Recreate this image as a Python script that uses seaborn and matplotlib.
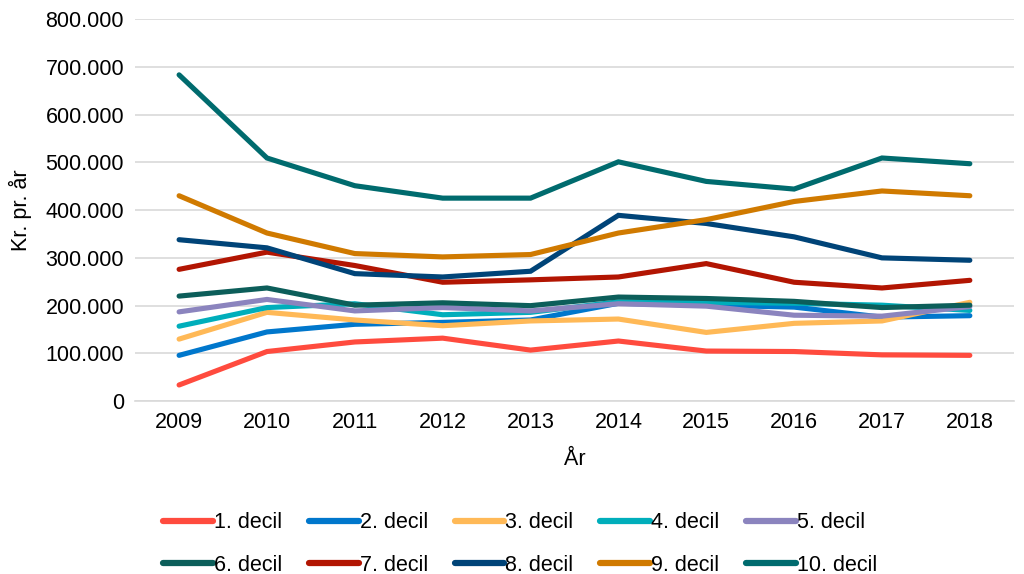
import matplotlib
matplotlib.use("Agg")
import matplotlib.pyplot as plt
import matplotlib.ticker as mticker
from matplotlib.lines import Line2D
import seaborn as sns
import pandas as pd

years = [2009, 2010, 2011, 2012, 2013, 2014, 2015, 2016, 2017, 2018]
labels = ["1. decil", "2. decil", "3. decil", "4. decil", "5. decil",
          "6. decil", "7. decil", "8. decil", "9. decil", "10. decil"]
d1 = [34000, 104000, 124000, 132000, 107000, 126000, 105000, 104000, 97000, 96000]
d2 = [96000, 145000, 161000, 165000, 170000, 205000, 201000, 197000, 176000, 179000]
d3 = [130000, 186000, 170000, 158000, 168000, 172000, 144000, 163000, 168000, 207000]
d4 = [157000, 196000, 204000, 181000, 186000, 208000, 207000, 205000, 201000, 190000]
d5 = [187000, 213000, 189000, 196000, 189000, 204000, 199000, 180000, 178000, 198000]
d6 = [220000, 237000, 201000, 206000, 200000, 218000, 215000, 209000, 196000, 201000]
d7 = [276000, 312000, 284000, 249000, 254000, 260000, 288000, 249000, 237000, 253000]
d8 = [338000, 321000, 267000, 260000, 272000, 389000, 372000, 344000, 300000, 295000]
d9 = [430000, 352000, 309000, 302000, 307000, 352000, 380000, 418000, 440000, 430000]
d10 = [683000, 509000, 451000, 425000, 425000, 501000, 460000, 444000, 509000, 497000]
series = [d1, d2, d3, d4, d5, d6, d7, d8, d9, d10]
colors = ["#FF4B3E", "#0077CC", "#FFB957", "#00AEBB", "#8B84BE",
          "#0C5E5A", "#B21502", "#004478", "#D07A00", "#006B6E"]

rows = []
for lab, vals in zip(labels, series):
    for y, v in zip(years, vals):
        rows.append({"År": y, "Værdi": v, "Decil": lab})
df = pd.DataFrame(rows)

sns.set_style("white")
plt.rcParams["font.family"] = ["Liberation Sans", "DejaVu Sans"]
plt.rcParams["text.color"] = "#000000"
plt.rcParams["axes.labelcolor"] = "#000000"
FS = 15.5

fig = plt.figure(figsize=(10.24, 5.74), dpi=100)
ax = fig.add_axes([0.132, 0.301, 0.858, 0.666])

sns.lineplot(data=df, x="År", y="Værdi", hue="Decil", hue_order=labels,
             palette=colors, linewidth=3.7, ax=ax, legend=False,
             solid_capstyle="round", solid_joinstyle="miter")

ax.set_ylim(0, 800000)
ax.set_xlim(2008.5, 2018.5)
ax.set_xticks(years)
ax.yaxis.set_major_locator(mticker.MultipleLocator(100000))
ax.yaxis.set_major_formatter(mticker.FuncFormatter(lambda v, p: f"{int(v):,}".replace(",", ".")))
ax.grid(axis="y", color="#D9D9D9", linewidth=1.2)
ax.set_axisbelow(True)
for s in ["top", "right", "left"]:
    ax.spines[s].set_visible(False)
ax.spines["bottom"].set_color("#D9D9D9")
ax.spines["bottom"].set_linewidth(1.2)
ax.tick_params(axis="both", length=0, labelsize=FS, colors="#000000", pad=8)
ax.set_xlabel("År", fontsize=FS, labelpad=11)
ax.set_ylabel("Kr. pr. år", fontsize=FS, labelpad=10)

handles = [Line2D([0], [0], color=c, linewidth=4.5, solid_capstyle="round") for c in colors]
# matplotlib fills legend columns first; reorder so rows read 1-5 and 6-10
order = [0, 5, 1, 6, 2, 7, 3, 8, 4, 9]
fig.legend([handles[i] for i in order], [labels[i] for i in order],
           loc="center", bbox_to_anchor=(0.508, 0.052), ncol=5,
           frameon=False, fontsize=FS, handlelength=2.3, handletextpad=0.05,
           columnspacing=1.25, labelspacing=1.0, labelcolor="#000000")

fig.savefig("out.png", dpi=100)
